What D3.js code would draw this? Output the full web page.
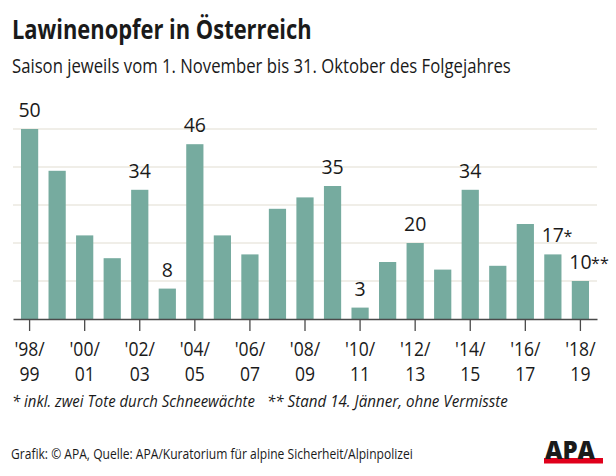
<!DOCTYPE html>
<html><head><meta charset="utf-8">
<script src="https://cdn.jsdelivr.net/npm/d3@7"></script>
<style>
html,body{margin:0;padding:0;background:#fff;}
svg{display:block;}
text{font-family:"Open Sans","Noto Sans",sans-serif;fill:#1a1a1a;}
</style></head>
<body>
<script>
const seasons = ["'98/99","'99/00","'00/01","'01/02","'02/03","'03/04","'04/05","'05/06","'06/07","'07/08","'08/09","'09/10","'10/11","'11/12","'12/13","'13/14","'14/15","'15/16","'16/17","'17/18","'18/19"];
const values = [50,39,22,16,34,8,46,22,17,29,32,35,3,15,20,13,34,14,25,17,10];
const labelled = [true,false,false,false,true,true,true,false,false,false,false,true,true,false,true,false,true,false,false,true,true];
const labelSuffix = ["","","","","","","","","","","","","","","","","","","","*","**"];
const gridTicks = [10,20,30,40,50];

const title = "Lawinenopfer in Österreich";
const subtitle = "Saison jeweils vom 1. November bis 31. Oktober des Folgejahres";
const note1 = "* inkl. zwei Tote durch Schneewächte";
const note2 = "** Stand 14. Jänner, ohne Vermisste";
const source = "Grafik: © APA, Quelle: APA/Kuratorium für alpine Sicherheit/Alpinpolizei";

const W = 616, H = 476;
const svg = d3.select("body").append("svg").attr("width", W).attr("height", H);

// text squeezed horizontally to a target width (narrow typeface look)
function fitText(str, x0, y0, width, attrs, fill) {
  const t = svg.append("text").attr("x", 0).attr("y", 0).text(str);
  Object.entries(attrs).forEach(([k, v]) => t.attr(k, v));
  if (fill) t.attr("fill", fill);
  const w = t.node().getComputedTextLength();
  const sx = Math.min(1, width / w);
  t.attr("transform", `translate(${x0},${y0}) scale(${sx},1)`);
  return t;
}

const x = d3.scaleBand().domain(seasons).range([13, 597]).paddingInner(0.375).paddingOuter(0.29);
const y = d3.scaleLinear().domain([0, 50]).range([319, 129]);

// title
fitText(title, 12, 39, 300, {"font-size": 26, "font-weight": 700});
fitText(subtitle, 12, 73, 499, {"font-size": 20.5});

// grid
svg.append("g").selectAll("line").data(gridTicks).join("line")
  .attr("x1", 13).attr("x2", 597).attr("y1", d => y(d)).attr("y2", d => y(d))
  .attr("stroke", "#ebe8e1").attr("stroke-width", 1.3);

// bars
svg.append("g").selectAll("rect").data(values).join("rect")
  .attr("x", (d, i) => x(seasons[i])).attr("width", x.bandwidth())
  .attr("y", d => y(d)).attr("height", d => y(0) - y(d))
  .attr("fill", "#76ab9f");

// axis
const axis = d3.axisBottom(x).tickValues(seasons.filter((d, i) => i % 2 === 0))
  .tickSize(12).tickSizeOuter(0).tickFormat("");
const ax = svg.append("g").attr("transform", `translate(0,${y(0)})`).call(axis);
ax.select(".domain").attr("stroke", "#4a4a4a").attr("stroke-width", 1.5);
ax.selectAll(".tick line").attr("stroke", "#4a4a4a").attr("stroke-width", 1.3);
ax.selectAll(".tick").each(function(d) {
  const parts = d.split("/");
  const t = d3.select(this).append("text").attr("text-anchor", "middle").attr("font-size", 19.5)
    .attr("fill", "#1a1a1a").attr("transform", "scale(0.9,1)");
  t.append("tspan").attr("x", 0).attr("y", 37).text(parts[0] + "/");
  t.append("tspan").attr("x", 0).attr("y", 62).text(parts[1]);
});

// value labels
const lg = svg.append("g");
values.forEach((v, i) => {
  if (!labelled[i]) return;
  const cx = x(seasons[i]) + x.bandwidth() / 2;
  const t = lg.append("text").attr("y", y(v) - 12).attr("font-size", 19.5).attr("text-anchor", "start");
  const num = t.append("tspan").text(v);
  const w = num.node().getComputedTextLength();
  t.attr("x", cx - w / 2);
  if (labelSuffix[i]) t.append("tspan").attr("font-size", 16).attr("dx", -0.5).text(labelSuffix[i]);
});

// notes
fitText(note1, 12, 407, 243, {"font-size": 17, "font-style": "italic"});
fitText(note2, 267, 407, 241, {"font-size": 17, "font-style": "italic"});

// source
fitText(source, 11, 459, 402, {"font-size": 15});

// APA logo
svg.append("rect").attr("x", 544).attr("y", 458).attr("width", 59).attr("height", 5.5).attr("fill", "#e0001b");
fitText("APA", 545, 459, 57, {"font-size": 24, "font-weight": 800}, "#000");
</script>
</body></html>
